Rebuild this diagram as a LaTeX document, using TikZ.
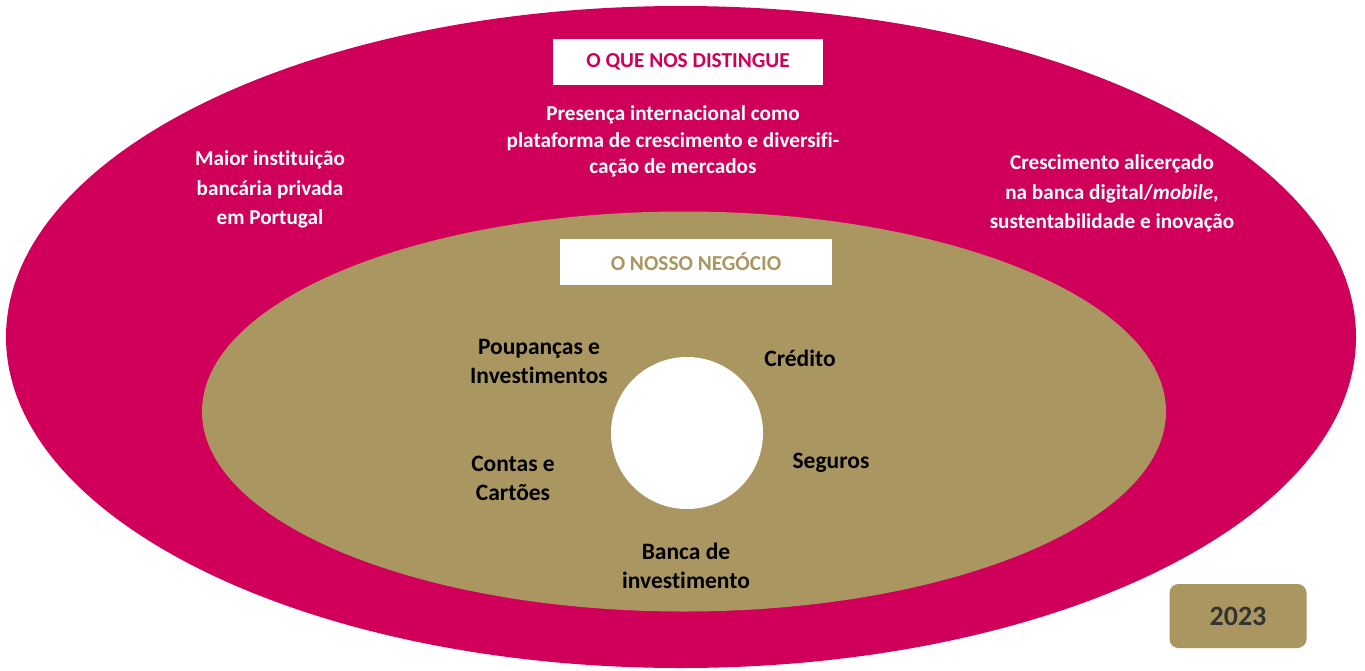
\documentclass[tikz,border=0pt]{standalone}
\usepackage{fontspec}
\setmainfont{Carlito}[Ligatures=NoCommon]
\definecolor{magenta}{RGB}{208,0,90}
\definecolor{olive}{RGB}{170,150,96}
\definecolor{darkgray}{RGB}{51,51,51}
\begin{document}
\begin{tikzpicture}[x=1pt,y=-1pt,
  whitetxt/.style={text=white,align=center,font=\fontsize{21.2}{29.5}\selectfont\bfseries},
  blacktxt/.style={text=black,align=center,font=\fontsize{23.5}{29}\selectfont\bfseries},
  titlebox/.style={fill=white,minimum width=270pt,minimum height=46pt,inner sep=0pt,font=\fontsize{21.3}{24}\selectfont\bfseries}
]
\useasboundingbox (0,0) rectangle (1365,670);
\fill[magenta] (681,337) ellipse [x radius=675, y radius=331];
\fill[olive] (684,411.5) ellipse [x radius=482, y radius=200];
\fill[white] (687,433) circle [radius=76];

\node[titlebox,text=magenta] (t1) at (688,62) {O QUE NOS DISTINGUE};
\node[titlebox,text=olive,minimum width=272pt] (t2) at (696,262) {O NOSSO NEGÓCIO};

\node[whitetxt] (a1) at (270,189.5) {Maior instituição\\bancária privada\\em Portugal};
\node[whitetxt,font=\fontsize{21.2}{26.5}\selectfont\bfseries] (a2) at (673,141.5) {Presença internacional como\\plataforma de crescimento e diversifi-\\cação de mercados};
\node[whitetxt] (a3) at (1112,193.5) {Crescimento alicerçado\\na banca digital/\textit{mobile},\\sustentabilidade e inovação};

\node[blacktxt] (b1) at (539,361.5) {Poupanças e\\Investimentos};
\node[blacktxt] (b2) at (800,358) {Crédito};
\node[blacktxt] (b3) at (513,478.5) {Contas e\\Cartões};
\node[blacktxt] (b4) at (831,463) {Seguros};
\node[blacktxt] (b5) at (686,565.5) {Banca de\\investimento};

\node[fill=olive,rounded corners=9pt,minimum width=137pt,minimum height=64pt,inner sep=0pt,text=darkgray,font=\fontsize{28}{32}\selectfont\bfseries] (y) at (1238,616) {2023};
\end{tikzpicture}
\end{document}
